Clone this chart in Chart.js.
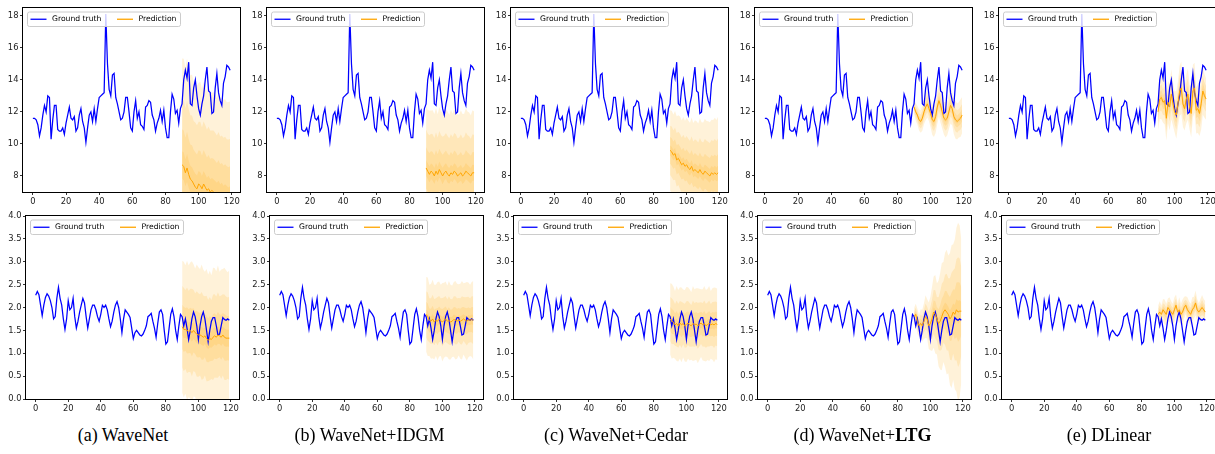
<!DOCTYPE html>
<html>
<head>
<meta charset="utf-8">
<script src="https://cdn.jsdelivr.net/npm/chart.js@4.4.1/dist/chart.umd.min.js"></script>
<style>
body{margin:0;background:#fff;width:1215px;height:454px;overflow:hidden;position:relative}
canvas{position:absolute}
.cap{position:absolute;top:424px;width:260px;text-align:center;font-family:"Liberation Serif","Times New Roman",serif;font-size:18px;line-height:22px;color:#000;white-space:nowrap}
</style>
</head>
<body>
<script>
// time steps: history 0..119, forecast window 90..119
var steps = [];
for (var s = 0; s < 120; s++) steps.push(s);
var predSteps = steps.slice(90);

var gtTop = [
    11.6, 11.6, 11.5, 11.2, 10.5, 11.0, 11.8, 12.4, 12.0, 13.0,
    12.9, 10.3, 11.5, 12.4, 12.4, 10.9, 10.8, 10.8, 11.0, 10.6,
    11.3, 11.8, 12.3, 11.6, 11.5, 11.7, 10.8, 11.0, 11.8, 12.2,
    11.4, 11.0, 10.1, 11.0, 11.8, 12.0, 11.4, 12.2, 11.4, 12.2,
    12.9, 13.0, 13.1, 13.2, 18.1, 15.0, 13.4, 13.0, 14.3, 14.4,
    12.9, 12.5, 12.0, 11.5, 11.6, 12.0, 12.9, 12.9, 12.0, 11.0,
    10.8, 12.0, 12.7, 11.6, 12.0, 11.2, 11.1, 10.9, 12.3, 12.4,
    12.7, 12.6, 11.8, 11.5, 10.8, 11.3, 11.6, 12.1, 11.4, 12.1,
    11.0, 10.4, 10.4, 12.0, 13.1, 12.8, 11.9, 12.1, 11.3, 12.2,
    12.5, 14.0, 14.6, 14.1, 15.1, 12.5, 12.4, 13.5, 14.0, 13.0,
    12.2, 11.8, 12.5, 13.0, 14.0, 14.8, 13.3, 13.2, 11.9, 12.0,
    13.5, 14.4, 13.2, 12.7, 12.4, 13.8, 14.2, 14.9, 14.8, 14.6
];
var gtBottom = [
    2.27, 2.35, 2.28, 2.05, 1.82, 2.05, 2.22, 2.30, 2.25, 2.15,
    2.00, 1.75, 1.80, 2.20, 2.44, 2.20, 2.05, 1.75, 1.52, 1.75,
    2.15, 1.95, 2.00, 2.20, 1.80, 1.55, 1.70, 1.90, 2.05, 2.20,
    2.10, 1.80, 1.55, 1.75, 1.95, 2.05, 2.05, 1.95, 1.80, 1.70,
    1.85, 2.05, 2.00, 2.05, 1.95, 1.75, 1.58, 1.70, 1.90, 2.05,
    2.13, 2.00, 1.75, 1.45, 1.75, 1.95, 1.90, 1.85, 1.78, 1.55,
    1.32, 1.45, 1.50, 1.45, 1.40, 1.38, 1.42, 1.50, 1.60, 1.80,
    1.83, 1.87, 1.70, 1.55, 1.35, 1.65, 1.90, 1.95, 1.85, 1.50,
    1.20, 1.25, 1.55, 1.85, 1.97, 1.80, 1.50, 1.30, 1.60, 1.85,
    1.80, 1.60, 1.75, 1.55, 1.30, 1.50, 1.75, 1.90, 1.80, 1.60,
    1.30, 1.60, 1.80, 1.90, 1.75, 1.50, 1.25, 1.50, 1.70, 1.78,
    1.78, 1.60, 1.40, 1.42, 1.60, 1.78, 1.74, 1.72, 1.75, 1.72
];

// forecast means and spreads, per model (top row / bottom row)
var waveNetTopMean = [8.7, 8.6, 8.2, 8.5, 8.1, 7.8, 7.7, 7.5, 7.3, 7.2, 7.5, 7.4, 7.2, 7.5, 7.3, 7.1, 7.2, 7.0, 7.1, 7.0, 6.9, 6.8, 6.9, 6.7, 6.8, 6.6, 6.7, 6.6, 6.5, 6.6];
var waveNetTopSd = [1.7, 1.72, 1.68, 1.75, 1.7, 1.66, 1.7, 1.64, 1.68, 1.65, 1.62, 1.66, 1.6, 1.63, 1.62, 1.58, 1.62, 1.6, 1.56, 1.6, 1.58, 1.55, 1.6, 1.57, 1.55, 1.58, 1.56, 1.54, 1.57, 1.55];
var waveNetBotMean = [1.58, 1.52, 1.52, 1.5, 1.48, 1.5, 1.45, 1.5, 1.45, 1.42, 1.4, 1.4, 1.38, 1.35, 1.38, 1.32, 1.28, 1.32, 1.3, 1.35, 1.38, 1.35, 1.4, 1.38, 1.35, 1.4, 1.35, 1.33, 1.33, 1.33];
var waveNetBotSd = [0.37, 0.38, 0.36, 0.39, 0.37, 0.38, 0.4, 0.37, 0.36, 0.39, 0.38, 0.37, 0.4, 0.38, 0.36, 0.39, 0.37, 0.38, 0.36, 0.39, 0.38, 0.37, 0.39, 0.36, 0.38, 0.37, 0.39, 0.38, 0.37, 0.38];

var idgmTopMean = [8.5, 8.3, 8.1, 8.3, 8.2, 8.0, 8.3, 8.1, 8.4, 8.2, 8.0, 8.2, 8.3, 8.1, 8.0, 8.2, 8.1, 8.3, 8.2, 8.0, 8.1, 8.2, 8.0, 8.1, 8.3, 8.2, 8.1, 8.0, 8.2, 8.2];
var idgmTopSd = [1.0, 0.98, 1.02, 0.97, 1.0, 0.99, 1.01, 0.96, 1.0, 0.98, 1.02, 0.97, 0.99, 1.0, 0.98, 1.01, 0.97, 0.99, 1.0, 0.98, 0.96, 1.0, 0.99, 0.97, 1.01, 0.98, 0.99, 0.97, 1.0, 0.98];
var idgmBotMean = [1.85, 1.8, 1.72, 1.7, 1.75, 1.68, 1.72, 1.7, 1.75, 1.72, 1.68, 1.72, 1.75, 1.7, 1.72, 1.68, 1.7, 1.74, 1.72, 1.7, 1.73, 1.7, 1.72, 1.75, 1.72, 1.7, 1.73, 1.72, 1.74, 1.72];
var idgmBotSd = [0.21, 0.22, 0.2, 0.21, 0.22, 0.21, 0.2, 0.22, 0.21, 0.2, 0.22, 0.21, 0.21, 0.2, 0.22, 0.21, 0.2, 0.21, 0.22, 0.21, 0.2, 0.21, 0.22, 0.2, 0.21, 0.22, 0.21, 0.2, 0.21, 0.22];

var cedarTopMean = [9.6, 9.5, 9.3, 9.4, 9.0, 9.1, 8.9, 8.7, 8.8, 8.6, 8.7, 8.5, 8.4, 8.6, 8.3, 8.4, 8.3, 8.2, 8.4, 8.2, 8.1, 8.3, 8.2, 8.1, 8.0, 8.2, 8.1, 8.2, 8.1, 8.2];
var cedarTopSd = [0.64, 0.66, 0.65, 0.68, 0.7, 0.69, 0.72, 0.71, 0.74, 0.73, 0.75, 0.76, 0.75, 0.78, 0.77, 0.79, 0.8, 0.79, 0.82, 0.81, 0.83, 0.84, 0.83, 0.85, 0.86, 0.85, 0.87, 0.88, 0.87, 0.9];
var cedarBotMean = [1.75, 1.7, 1.68, 1.62, 1.65, 1.6, 1.66, 1.62, 1.65, 1.6, 1.63, 1.66, 1.62, 1.6, 1.65, 1.62, 1.64, 1.6, 1.63, 1.66, 1.62, 1.65, 1.6, 1.63, 1.65, 1.62, 1.64, 1.62, 1.65, 1.63];
var cedarBotSd = [0.2, 0.21, 0.2, 0.19, 0.21, 0.2, 0.2, 0.21, 0.19, 0.2, 0.21, 0.2, 0.2, 0.19, 0.21, 0.2, 0.2, 0.21, 0.2, 0.19, 0.2, 0.21, 0.2, 0.2, 0.21, 0.19, 0.2, 0.21, 0.2, 0.2];

var ltgTopMean = [12.3, 12.0, 11.8, 11.5, 11.4, 11.6, 12.0, 12.3, 12.5, 12.2, 11.9, 11.5, 11.4, 11.7, 12.3, 12.7, 12.4, 12.0, 11.6, 11.5, 11.6, 12.0, 12.4, 12.2, 11.7, 11.5, 11.4, 11.5, 11.6, 11.8];
var ltgTopSd = [0.12, 0.14, 0.15, 0.17, 0.18, 0.2, 0.2, 0.21, 0.22, 0.2, 0.23, 0.24, 0.25, 0.26, 0.27, 0.26, 0.28, 0.27, 0.26, 0.28, 0.27, 0.28, 0.29, 0.27, 0.28, 0.3, 0.29, 0.28, 0.3, 0.29];
var ltgBotMean = [1.8, 1.85, 1.7, 1.6, 1.65, 1.6, 1.7, 1.8, 1.75, 1.6, 1.65, 1.75, 1.9, 1.85, 1.75, 1.65, 1.7, 1.8, 1.9, 1.95, 1.9, 1.85, 1.75, 1.8, 1.9, 1.85, 1.95, 1.9, 1.92, 1.92];
var ltgBotSd = [0.05, 0.06, 0.07, 0.06, 0.08, 0.09, 0.1, 0.12, 0.11, 0.13, 0.15, 0.18, 0.2, 0.22, 0.2, 0.24, 0.27, 0.3, 0.28, 0.32, 0.35, 0.33, 0.37, 0.4, 0.38, 0.42, 0.46, 0.5, 0.48, 0.4];

var dlinearTopMean = [12.0, 12.8, 12.9, 12.6, 12.7, 11.6, 12.6, 12.3, 13.1, 12.5, 12.0, 11.8, 12.5, 13.3, 13.5, 12.5, 12.2, 12.8, 13.1, 12.3, 11.9, 13.3, 13.5, 12.1, 12.2, 11.9, 12.5, 13.3, 13.0, 12.8];
var dlinearTopSd = [0.3, 0.32, 0.35, 0.33, 0.38, 0.36, 0.34, 0.37, 0.4, 0.35, 0.33, 0.38, 0.36, 0.4, 0.42, 0.37, 0.35, 0.39, 0.41, 0.36, 0.38, 0.42, 0.4, 0.37, 0.39, 0.36, 0.41, 0.38, 0.35, 0.33];
var dlinearBotMean = [1.85, 1.9, 1.85, 1.95, 1.9, 1.85, 2.0, 1.95, 1.9, 1.85, 1.95, 2.05, 1.9, 1.95, 1.85, 1.9, 2.0, 2.05, 1.95, 1.9, 1.85, 1.95, 2.0, 2.1, 1.95, 1.9, 1.95, 2.0, 1.95, 1.9];
var dlinearBotSd = [0.05, 0.06, 0.05, 0.06, 0.07, 0.06, 0.05, 0.07, 0.06, 0.06, 0.07, 0.06, 0.05, 0.07, 0.06, 0.07, 0.06, 0.05, 0.07, 0.06, 0.06, 0.07, 0.06, 0.07, 0.06, 0.05, 0.06, 0.07, 0.06, 0.06];

var captions = ['(a) WaveNet', '(b) WaveNet+IDGM', '(c) WaveNet+Cedar', '(d) WaveNet+<b>LTG</b>', '(e) DLinear'];
var topMeans = [waveNetTopMean, idgmTopMean, cedarTopMean, ltgTopMean, dlinearTopMean];
var topSds = [waveNetTopSd, idgmTopSd, cedarTopSd, ltgTopSd, dlinearTopSd];
var botMeans = [waveNetBotMean, idgmBotMean, cedarBotMean, ltgBotMean, dlinearBotMean];
var botSds = [waveNetBotSd, idgmBotSd, cedarBotSd, ltgBotSd, dlinearBotSd];

var xTicks = [0, 20, 40, 60, 80, 100, 120];
var topTicks = [8, 10, 12, 14, 16, 18];
var bottomTicks = [0, 0.5, 1, 1.5, 2, 2.5, 3, 3.5, 4];

// fan band half-widths in units of sd, outer to inner
var bandK = [3.9, 2.4, 1.3, 0.5];

var tickFont = {family: 'DejaVu Sans', size: 8.4};

var frameLegend = {
    id: 'frameLegend',
    afterDraw: function(chart){
        var ctx = chart.ctx, ca = chart.chartArea;
        ctx.save();
        ctx.strokeStyle = '#000';
        ctx.lineWidth = 1;
        ctx.strokeRect(ca.left - 0.5, ca.top - 0.5, ca.right - ca.left + 1, ca.bottom - ca.top + 1);

        var bx = ca.left + 4, by = ca.top + 3.5, bw = 153, bh = 14.5;
        ctx.fillStyle = 'rgba(255,255,255,0.8)';
        ctx.strokeStyle = '#cccccc';
        ctx.beginPath();
        ctx.roundRect(bx + 0.5, by + 0.5, bw, bh, 2);
        ctx.fill();
        ctx.stroke();

        var cy = by + bh / 2 + 0.5;
        var items = [
            {label: chart.data.datasets[1].label, color: 'blue', x: bx + 3.5},
            {label: chart.data.datasets[0].label, color: 'orange', x: bx + 90}
        ];
        // size the legend text so "Ground truth" spans about 49px, as in the figure
        ctx.font = '8px "DejaVu Sans"';
        var fs = 8 * 49.4 / ctx.measureText(items[0].label).width;
        ctx.font = fs.toFixed(2) + 'px "DejaVu Sans"';
        ctx.textBaseline = 'middle';
        items.forEach(function(it){
            ctx.strokeStyle = it.color;
            ctx.lineWidth = 1.3;
            ctx.beginPath();
            ctx.moveTo(it.x, cy);
            ctx.lineTo(it.x + 16, cy);
            ctx.stroke();
            ctx.fillStyle = '#000';
            ctx.fillText(it.label, it.x + 21.5, cy);
        });
        ctx.restore();
    }
};

function drawPanel(col, row, mean, sd){
    var isTop = row === 0;
    var axL = (isTop ? 23 : 26) + Math.round(243.9 * col);
    var axW = isTop ? 217 : 213;
    var axT = isTop ? 8 : 216;
    var axH = isTop ? 184 : 183;

    var canvas = document.createElement('canvas');
    canvas.width = axW + 42;
    canvas.height = axH + 24;
    canvas.style.left = (axL - 30) + 'px';
    canvas.style.top = (axT - 8) + 'px';
    document.body.appendChild(canvas);

    var gt = isTop ? gtTop : gtBottom;
    var datasets = [
        {label: 'Prediction', data: predSteps.map(function(x, i){ return {x: x, y: mean[i]}; }),
         borderColor: 'orange', borderWidth: 1, pointRadius: 0, fill: false},
        {label: 'Ground truth', data: steps.map(function(x, i){ return {x: x, y: gt[i]}; }),
         borderColor: 'blue', borderWidth: 1.25, pointRadius: 0, fill: false}
    ];
    bandK.forEach(function(k){
        datasets.push({
            data: predSteps.map(function(x, i){ return {x: x, y: mean[i] + k * sd[i]}; }),
            borderColor: 'rgba(0,0,0,0)', borderWidth: 0, pointRadius: 0,
            fill: '+1', backgroundColor: 'rgba(255,165,0,0.15)'
        });
        datasets.push({
            data: predSteps.map(function(x, i){ return {x: x, y: mean[i] - k * sd[i]}; }),
            borderColor: 'rgba(0,0,0,0)', borderWidth: 0, pointRadius: 0, fill: false
        });
    });

    var yTicks = isTop ? topTicks : bottomTicks;
    new Chart(canvas.getContext('2d'), {
        type: 'line',
        data: {datasets: datasets},
        options: {
            responsive: false,
            animation: false,
            devicePixelRatio: 1,
            events: [],
            layout: {padding: {left: 0, top: 8, right: 12, bottom: 0}},
            plugins: {legend: {display: false}, tooltip: {enabled: false}},
            scales: {
                x: {
                    type: 'linear', min: -5.95, max: 124.95,
                    afterBuildTicks: function(sc){ sc.ticks = xTicks.map(function(v){ return {value: v}; }); },
                    afterFit: function(sc){ sc.height = 16; },
                    grid: {drawOnChartArea: false, drawTicks: true, tickLength: 3, color: '#000', lineWidth: 0.8},
                    border: {display: false},
                    ticks: {padding: 1.5, font: tickFont, color: '#222', maxRotation: 0, autoSkip: false}
                },
                y: {
                    type: 'linear', min: isTop ? 7 : 0, max: isTop ? 18.48 : 4,
                    afterBuildTicks: function(sc){ sc.ticks = yTicks.map(function(v){ return {value: v}; }); },
                    afterFit: function(sc){ sc.width = 30; },
                    grid: {drawOnChartArea: false, drawTicks: true, tickLength: 3, color: '#000', lineWidth: 0.8},
                    border: {display: false},
                    ticks: {padding: 1.5, font: tickFont, color: '#222', autoSkip: false,
                            callback: function(v){ return isTop ? v : v.toFixed(1); }}
                }
            }
        },
        plugins: [frameLegend]
    });
}

for (var c = 0; c < 5; c++){
    drawPanel(c, 0, topMeans[c], topSds[c]);
    drawPanel(c, 1, botMeans[c], botSds[c]);
    var cap = document.createElement('div');
    cap.className = 'cap';
    cap.innerHTML = captions[c];
    cap.style.left = (123 + 246.5 * c - 130) + 'px';
    document.body.appendChild(cap);
}
</script>
</body>
</html>
